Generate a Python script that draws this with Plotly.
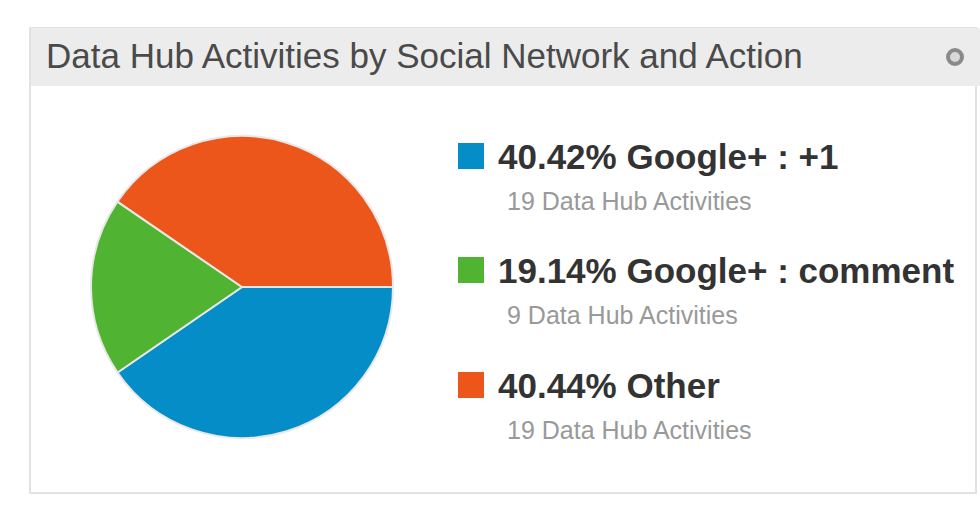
import plotly.graph_objects as go

# ---- data ----
labels = ["Google+ : +1", "Google+ : comment", "Other"]
percents = [40.42, 19.14, 40.44]
counts = [19, 9, 19]
colors = ["#058DC7", "#50B432", "#ED561B"]
title = "Data Hub Activities by Social Network and Action"
count_label = "Data Hub Activities"

W, H = 980, 509
FONT = "Liberation Sans, Arial, sans-serif"

def px(x):
    return x / W

def py(y):
    return 1 - y / H

fig = go.Figure()

# pie: centre (242, 287), radius ~151 px
cx, cy, r = 242, 287, 151
fig.add_trace(go.Pie(
    labels=labels,
    values=percents,
    marker=dict(colors=colors, line=dict(color="#e8e8e8", width=2)),
    sort=False,
    direction="clockwise",
    rotation=90,
    textinfo="none",
    hoverinfo="label+percent",
    showlegend=False,
    domain=dict(x=[px(cx - r), px(cx + r)], y=[py(cy + r), py(cy - r)]),
))

shapes = []
annotations = []

# panel frame
shapes.append(dict(type="rect", xref="paper", yref="paper",
                   x0=px(30), x1=px(976), y0=py(493), y1=py(28),
                   line=dict(color="#e2e2e2", width=2), fillcolor="white", layer="below"))
# title bar
shapes.append(dict(type="rect", xref="paper", yref="paper",
                   x0=px(31), x1=px(980), y0=py(86), y1=py(28),
                   line=dict(width=0), fillcolor="#ececec", layer="below"))
annotations.append(dict(text=title, xref="paper", yref="paper",
                        x=px(44), y=py(56), xanchor="left", yanchor="middle",
                        showarrow=False, font=dict(family=FONT, size=35, color="#4a4a4a")))
# gear icon
shapes.append(dict(type="circle", xref="paper", yref="paper",
                   x0=px(948), x1=px(962), y0=py(64), y1=py(50),
                   line=dict(color="#8a8a8a", width=4), fillcolor="#d8d8d8"))

# legend
item_y = [156, 270, 385]
for lab, pct, cnt, col, yc in zip(labels, percents, counts, colors, item_y):
    shapes.append(dict(type="rect", xref="paper", yref="paper",
                       x0=px(458), x1=px(484), y0=py(yc + 13), y1=py(yc - 13),
                       line=dict(width=0), fillcolor=col))
    annotations.append(dict(text=f"<b>{pct:.2f}% {lab}</b>", xref="paper", yref="paper",
                            x=px(496), y=py(yc), xanchor="left", yanchor="middle",
                            showarrow=False, font=dict(family=FONT, size=35, color="#333333")))
    annotations.append(dict(text=f"{cnt} {count_label}", xref="paper", yref="paper",
                            x=px(505), y=py(yc + 45), xanchor="left", yanchor="middle",
                            showarrow=False, font=dict(family=FONT, size=25, color="#999999")))

fig.update_layout(
    width=W, height=H,
    margin=dict(l=0, r=0, t=0, b=0),
    paper_bgcolor="white",
    plot_bgcolor="white",
    shapes=shapes,
    annotations=annotations,
)

fig.write_html("out.html")
